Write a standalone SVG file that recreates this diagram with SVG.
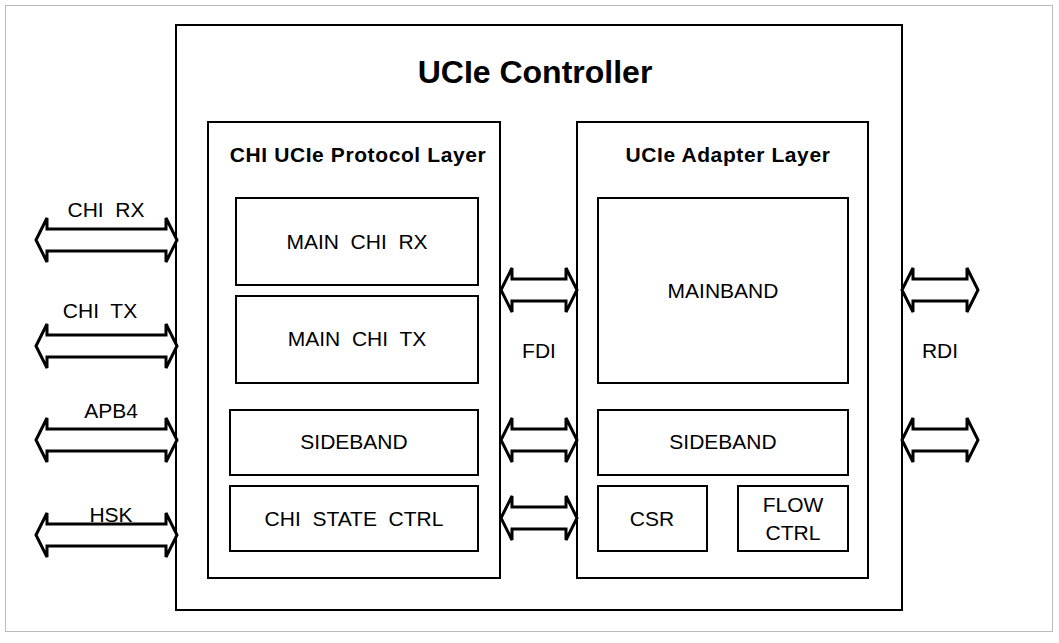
<svg xmlns="http://www.w3.org/2000/svg" width="1059" height="643" viewBox="0 0 1059 643">
<style>
.b{fill:#fff;stroke:#000;stroke-width:2}
.a{fill:#fff;stroke:#000;stroke-width:3;stroke-linejoin:miter}
text{font-family:"Liberation Sans",Arial,sans-serif;fill:#000;text-anchor:middle;white-space:pre}
.t{font-size:21px}
.h{font-size:21px;font-weight:bold;letter-spacing:0.6px}
</style>
<rect x="0" y="0" width="1059" height="643" fill="#fff"/>
<rect x="5.5" y="5.5" width="1047" height="626" fill="none" stroke="#bbb" stroke-width="1"/>
<g id="controller"><rect class="b" x="176" y="25" width="726" height="585"/><text x="535" y="83" style="font-size:32px;font-weight:bold">UCIe Controller</text></g>
<g id="protocol"><rect class="b" x="208" y="122" width="292" height="456"/><text class="h" x="358" y="162">CHI UCIe Protocol Layer</text></g>
<g id="adapter"><rect class="b" x="577" y="122" width="291" height="456"/><text class="h" x="728" y="162">UCIe Adapter Layer</text></g>
<g id="mainrx"><rect class="b" x="236" y="198" width="242" height="87"/><text class="t" x="357" y="249" xml:space="preserve">MAIN  CHI  RX</text></g>
<g id="maintx"><rect class="b" x="236" y="296" width="242" height="87"/><text class="t" x="357" y="346" xml:space="preserve">MAIN  CHI  TX</text></g>
<g id="sideband1"><rect class="b" x="230" y="410" width="248" height="65"/><text class="t" x="354" y="449">SIDEBAND</text></g>
<g id="statectrl"><rect class="b" x="230" y="486" width="248" height="65"/><text class="t" x="354" y="526" xml:space="preserve">CHI  STATE  CTRL</text></g>
<g id="mainband"><rect class="b" x="598" y="198" width="250" height="185"/><text class="t" x="723" y="298">MAINBAND</text></g>
<g id="sideband2"><rect class="b" x="598" y="410" width="250" height="65"/><text class="t" x="723" y="449">SIDEBAND</text></g>
<g id="csr"><rect class="b" x="598" y="486" width="109" height="65"/><text class="t" x="652" y="526">CSR</text></g>
<g id="flowctrl"><rect class="b" x="738" y="486" width="110" height="65"/><text class="t" x="793" y="512">FLOW</text><text class="t" x="793" y="540">CTRL</text></g>
<g id="connectors">
<path class="a" d="M36,240 L47,218 L47,229 L166,229 L166,218 L177,240 L166,262 L166,251 L47,251 L47,262 Z"/>
<path class="a" d="M36,346 L47,324 L47,335 L166,335 L166,324 L177,346 L166,368 L166,357 L47,357 L47,368 Z"/>
<path class="a" d="M36,440 L47,418 L47,429 L166,429 L166,418 L177,440 L166,462 L166,451 L47,451 L47,462 Z"/>
<path class="a" d="M36,535 L47,513 L47,524 L166,524 L166,513 L177,535 L166,557 L166,546 L47,546 L47,557 Z"/>
<path class="a" d="M501,290 L512,268 L512,279 L566,279 L566,268 L577,290 L566,312 L566,301 L512,301 L512,312 Z"/>
<path class="a" d="M501,440 L512,418 L512,429 L566,429 L566,418 L577,440 L566,462 L566,451 L512,451 L512,462 Z"/>
<path class="a" d="M501,518 L512,496 L512,507 L566,507 L566,496 L577,518 L566,540 L566,529 L512,529 L512,540 Z"/>
<path class="a" d="M902,290 L913,268 L913,279 L967,279 L967,268 L978,290 L967,312 L967,301 L913,301 L913,312 Z"/>
<path class="a" d="M902,440 L913,418 L913,429 L967,429 L967,418 L978,440 L967,462 L967,451 L913,451 L913,462 Z"/>
</g>
<text class="t" x="106" y="217" xml:space="preserve">CHI  RX</text>
<text class="t" x="100" y="318" xml:space="preserve">CHI  TX</text>
<text class="t" x="111" y="418">APB4</text>
<text class="t" x="111" y="522">HSK</text>
<text class="t" x="539" y="358">FDI</text>
<text class="t" x="940" y="358">RDI</text>
</svg>
